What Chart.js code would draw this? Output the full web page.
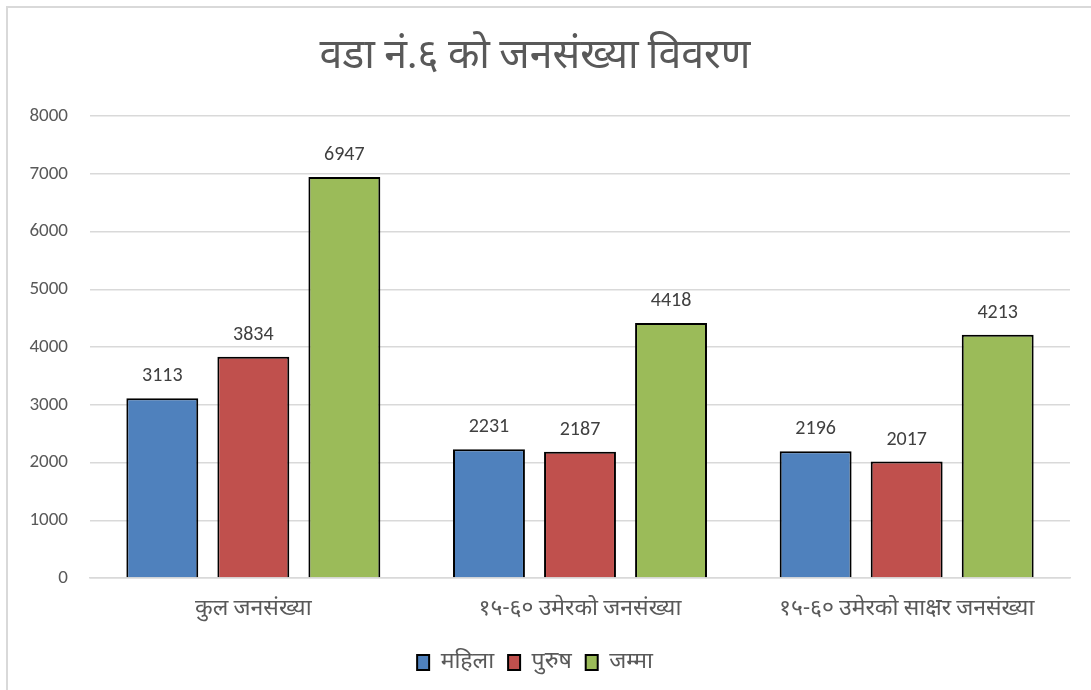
<!DOCTYPE html>
<html>
<head>
<meta charset="utf-8">
<script src="https://cdn.jsdelivr.net/npm/chart.js@4.4.1/dist/chart.umd.min.js"></script>
<style>
  html, body { margin: 0; padding: 0; background: #fff; }
  #frame { position: absolute; left: 6px; top: 6px; width: 1200px; height: 800px;
           border-left: 2px solid #d9d9d9; border-top: 2px solid #d9d9d9; }
  #wrap { position: absolute; left: 0; top: 0; width: 1091px; height: 690px; }
</style>
</head>
<body>
<div id="frame"></div>
<div id="wrap"><canvas id="graph1" width="1091" height="690"></canvas></div>
<script>
var titleText = 'वडा नं.६ को जनसंख्या विवरण';
var categories = ['कुल जनसंख्या', '१५-६० उमेरको जनसंख्या', '१५-६० उमेरको साक्षर जनसंख्या'];
var seriesNames = ['महिला', 'पुरुष', 'जम्मा'];
var female = [3113, 2231, 2196];
var male = [3834, 2187, 2017];
var total = [6947, 4418, 4213];
var yTicks = [0, 1000, 2000, 3000, 4000, 5000, 6000, 7000, 8000];

var fontFamily = "Calibri, Carlito, 'Open Sans', 'Noto Sans', 'Noto Sans Devanagari', sans-serif";

var valueLabels = {
    id: 'valueLabels',
    afterDatasetsDraw: function (chart) {
        var ctx = chart.ctx;
        ctx.save();
        ctx.font = '20px ' + fontFamily;
        ctx.fillStyle = '#404040';
        ctx.textAlign = 'center';
        ctx.textBaseline = 'bottom';
        chart.data.datasets.forEach(function (ds, i) {
            chart.getDatasetMeta(i).data.forEach(function (bar, j) {
                ctx.fillText(ds.data[j], bar.x, bar.y - 12);
            });
        });
        ctx.restore();
    }
};

function showData() {
    var context = document.getElementById("graph1").getContext('2d');
    var chart = new Chart(context, {
        type: 'bar',
        data: {
            labels: categories,
            datasets: [
                { label: seriesNames[0], data: female, backgroundColor: '#4F81BD', borderColor: '#000', borderWidth: 2 },
                { label: seriesNames[1], data: male, backgroundColor: '#C0504D', borderColor: '#000', borderWidth: 2 },
                { label: seriesNames[2], data: total, backgroundColor: '#9BBB59', borderColor: '#000', borderWidth: 2 }
            ]
        },
        options: {
            responsive: false,
            animation: false,
            layout: { padding: { left: 0, right: 21, top: 0, bottom: 6 } },
            datasets: { bar: { categoryPercentage: 0.836, barPercentage: 0.79 } },
            scales: {
                x: {
                    grid: { display: false },
                    border: { color: '#d9d9d9', width: 1.5 },
                    ticks: { color: '#595959', font: { size: 23, family: fontFamily }, padding: 9 },
                    afterFit: function (s) { s.height = 59; }
                },
                y: {
                    min: 0, max: 8000,
                    afterBuildTicks: function (s) { s.ticks = yTicks.map(function (v) { return { value: v }; }); },
                    grid: { color: '#d9d9d9', lineWidth: 1.5, drawTicks: false },
                    border: { display: false },
                    ticks: {
                        color: '#595959', font: { size: 19, family: fontFamily }, padding: 22,
                        callback: function (v) { return String(v); }
                    },
                    afterFit: function (s) { s.width = 90; }
                }
            },
            plugins: {
                title: {
                    display: true, text: titleText, color: '#595959',
                    font: { size: 41, family: fontFamily, weight: 'normal' },
                    padding: { top: 33, bottom: 34 }
                },
                legend: {
                    position: 'bottom',
                    labels: { color: '#595959', font: { size: 23, family: fontFamily }, boxWidth: 12, boxHeight: 15, padding: 14 }
                },
                tooltip: { enabled: false }
            }
        },
        plugins: [valueLabels]
    });
}

showData();
</script>
</body>
</html>
